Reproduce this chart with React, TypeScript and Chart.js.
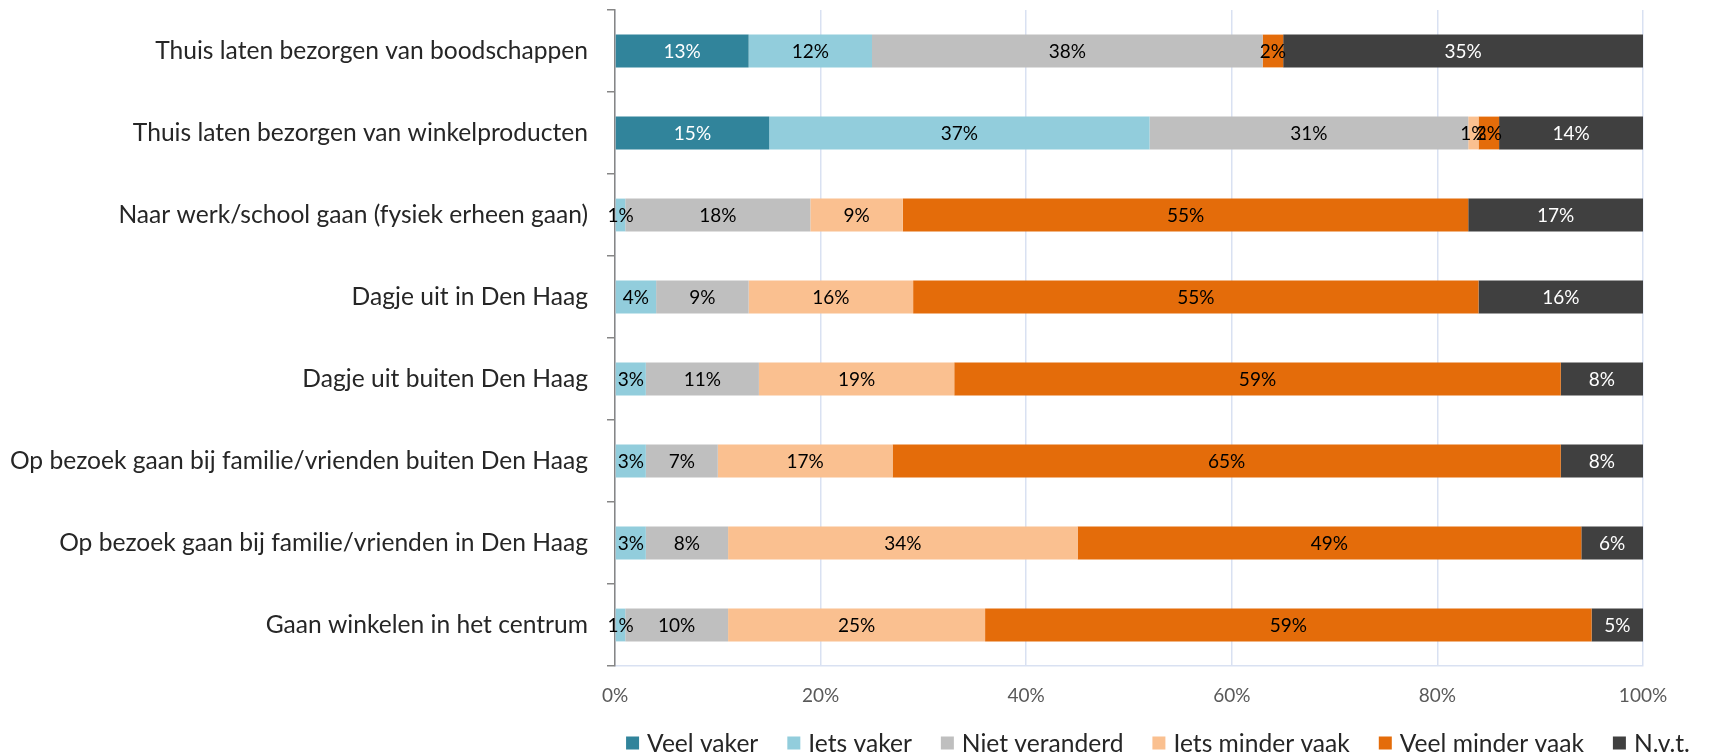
import React, { useEffect, useRef } from "react";
import { Chart, registerables } from "chart.js";

Chart.register(...registerables);

// ---- Data ----
const categories = [
  "Thuis laten bezorgen van boodschappen",
  "Thuis laten bezorgen van winkelproducten",
  "Naar werk/school gaan (fysiek erheen gaan)",
  "Dagje uit in Den Haag",
  "Dagje uit buiten Den Haag",
  "Op bezoek gaan bij familie/vrienden buiten Den Haag",
  "Op bezoek gaan bij familie/vrienden in Den Haag",
  "Gaan winkelen in het centrum",
];
const seriesNames = [
  "Veel vaker",
  "Iets vaker",
  "Niet veranderd",
  "Iets minder vaak",
  "Veel minder vaak",
  "N.v.t.",
];
const veelVaker = [13, 15, 0, 0, 0, 0, 0, 0];
const ietsVaker = [12, 37, 1, 4, 3, 3, 3, 1];
const nietVeranderd = [38, 31, 18, 9, 11, 7, 8, 10];
const ietsMinderVaak = [0, 1, 9, 16, 19, 17, 34, 25];
const veelMinderVaak = [2, 2, 55, 55, 59, 65, 49, 59];
const nvt = [35, 14, 17, 16, 8, 8, 6, 5];
const xTickValues = [0, 20, 40, 60, 80, 100];
const xTickLabels = ["0%", "20%", "40%", "60%", "80%", "100%"];

// ---- Styles ----
const seriesColors = ["#31849B", "#92CDDC", "#BFBFBF", "#FAC090", "#E46C0A", "#404040"];
const labelColors = ["#FFFFFF", "#000000", "#000000", "#000000", "#000000", "#FFFFFF"];
const FONT = "Lato, 'Noto Sans', sans-serif";
const CAT_SIZE = 24.6;
const TICK_SIZE = 19;
const DL_SIZE = 19;
const LEG_SIZE = 24.6;
const W = 1715;
const H = 755;

const dataLabelPlugin = {
  id: "segmentLabels",
  afterDatasetsDraw(chart: any) {
    const ctx = chart.ctx;
    ctx.save();
    ctx.font = `${DL_SIZE}px ${FONT}`;
    ctx.textAlign = "center";
    ctx.textBaseline = "middle";
    chart.data.datasets.forEach((ds: any, di: number) => {
      const meta = chart.getDatasetMeta(di);
      meta.data.forEach((el: any, i: number) => {
        const v = ds.data[i];
        if (!v) return;
        const p = el.getProps(["x", "y", "base"], true);
        ctx.fillStyle = labelColors[di];
        ctx.fillText(v + "%", (p.x + p.base) / 2, p.y + 1);
      });
    });
    ctx.restore();
  },
};

const legendPlugin = {
  id: "bottomLegend",
  afterDraw(chart: any) {
    const ctx = chart.ctx;
    ctx.save();
    ctx.font = `${LEG_SIZE}px ${FONT}`;
    ctx.textBaseline = "middle";
    ctx.textAlign = "left";
    const box = 13;
    const gapBoxText = 8;
    const gapItem = 29;
    const widths = seriesNames.map((n) => ctx.measureText(n).width);
    const total =
      widths.reduce((a, w) => a + box + gapBoxText + w, 0) + gapItem * (seriesNames.length - 1);
    const center = 1158;
    const yMid = 743;
    let x = center - total / 2;
    seriesNames.forEach((n, i) => {
      ctx.fillStyle = seriesColors[i];
      ctx.fillRect(x, yMid - box / 2, box, box);
      ctx.fillStyle = "#262626";
      ctx.fillText(n, x + box + gapBoxText, yMid + 1);
      x += box + gapBoxText + widths[i] + gapItem;
    });
    ctx.restore();
  },
};

export default function App() {
  const ref = useRef<HTMLCanvasElement | null>(null);

  useEffect(() => {
    if (!ref.current) return;
    const series = [veelVaker, ietsVaker, nietVeranderd, ietsMinderVaak, veelMinderVaak, nvt];
    const chart = new Chart(ref.current, {
      type: "bar",
      data: {
        labels: categories,
        datasets: series.map((d, i) => ({
          label: seriesNames[i],
          data: d,
          backgroundColor: seriesColors[i],
          borderWidth: 0,
          barPercentage: 0.4,
          categoryPercentage: 1,
        })),
      },
      options: {
        indexAxis: "y",
        animation: false,
        responsive: false,
        devicePixelRatio: 1,
        layout: { padding: { top: 10, right: 72, bottom: 0, left: 0 } },
        plugins: {
          legend: { display: false },
          tooltip: { enabled: false },
          title: { display: false },
        },
        scales: {
          x: {
            type: "linear",
            stacked: true,
            min: 0,
            max: 100,
            afterFit: (s: any) => {
              s.height = 89;
            },
            afterBuildTicks: (s: any) => {
              s.ticks = xTickValues.map((v) => ({ value: v }));
            },
            ticks: {
              stepSize: 20,
              padding: 18,
              color: "#595959",
              font: { family: FONT, size: TICK_SIZE },
              callback: (v: any) => {
                const idx = xTickValues.indexOf(Number(v));
                return idx >= 0 ? xTickLabels[idx] : "";
              },
            },
            grid: { color: "#D9E1F2", lineWidth: 1.5, drawTicks: false },
            border: { display: true, color: "#D9E1F2", width: 1.5 },
          },
          y: {
            type: "category",
            stacked: true,
            afterFit: (s: any) => {
              s.width = 615;
              s.paddingTop = 0;
              s.paddingBottom = 0;
            },
            ticks: {
              padding: 19,
              color: "#262626",
              font: { family: FONT, size: CAT_SIZE },
            },
            grid: {
              offset: true,
              drawOnChartArea: false,
              drawTicks: true,
              tickLength: 8,
              color: "#868686",
              lineWidth: 1.5,
            },
            border: { display: true, color: "#868686", width: 1.5 },
          },
        },
      },
      plugins: [dataLabelPlugin, legendPlugin],
    });
    return () => chart.destroy();
  }, []);

  return (
    <div style={{ position: "fixed", left: 0, top: 0, width: W, height: H, background: "#fff" }}>
      <canvas ref={ref} width={W} height={H} style={{ width: W, height: H, display: "block" }} />
    </div>
  );
}
